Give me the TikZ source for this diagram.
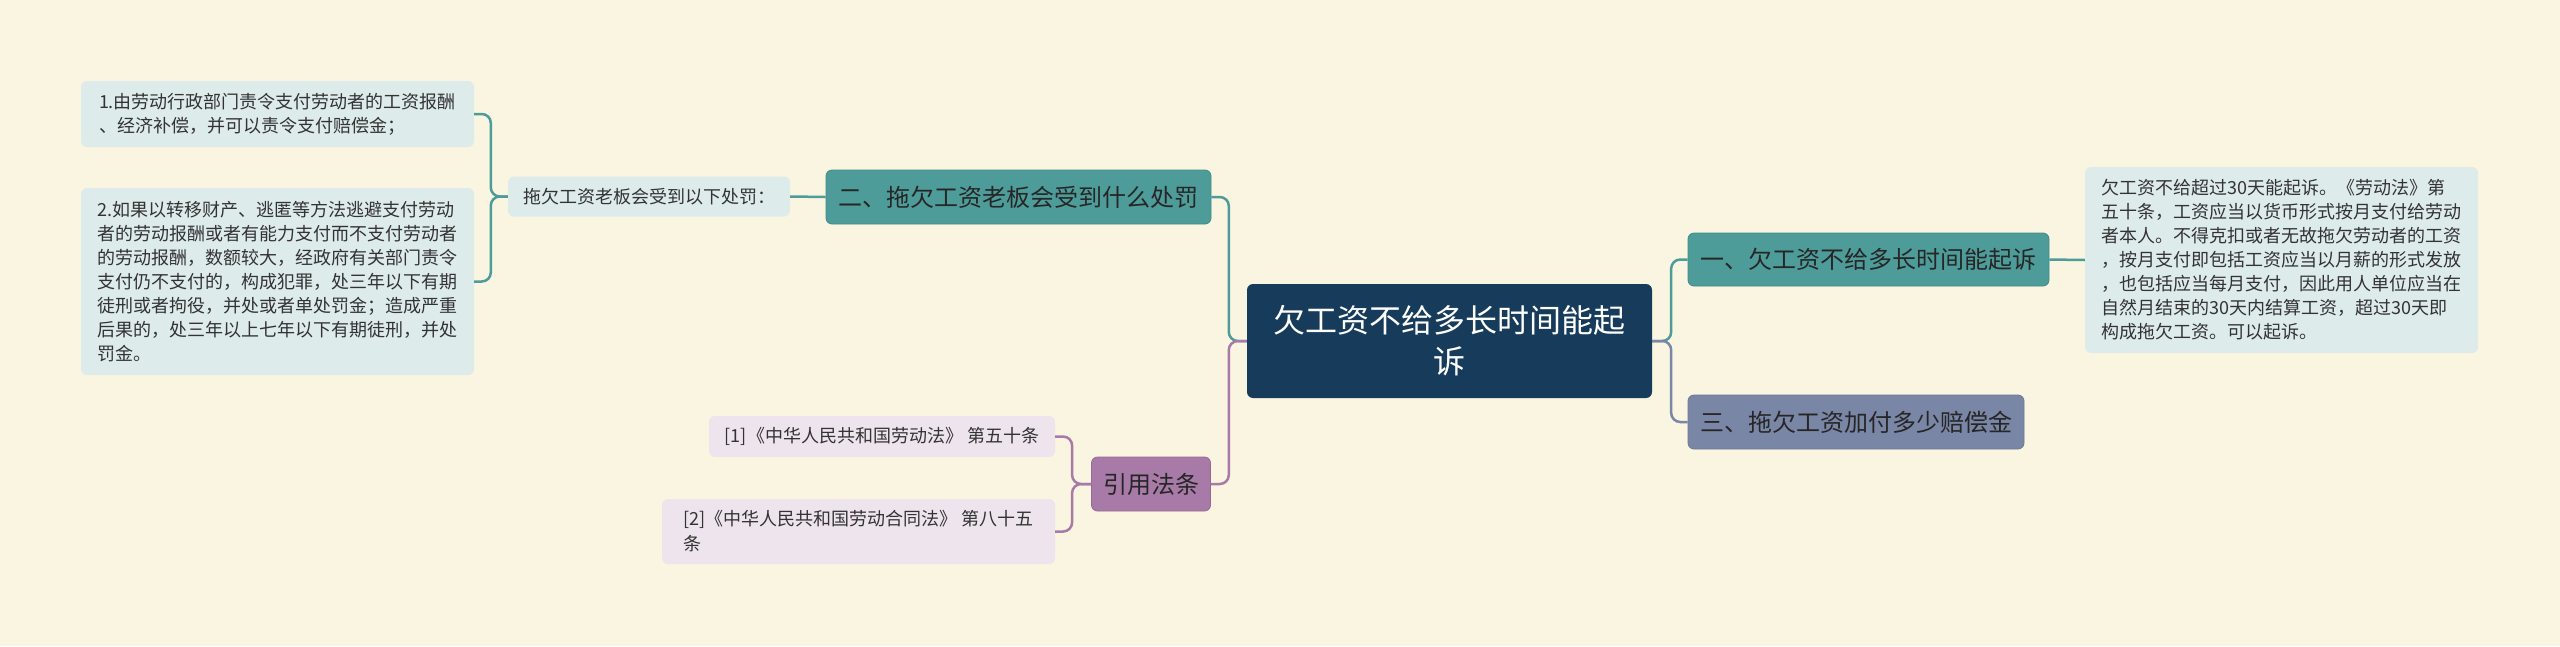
\documentclass[tikz,border=0pt]{standalone}
\usepackage{fontspec}
\setmainfont{Noto Sans CJK SC}
\definecolor{bgc}{RGB}{250,245,224}
\definecolor{tealc}{RGB}{78,156,154}
\definecolor{tealdk}{RGB}{66,138,136}
\definecolor{rootc}{RGB}{23,59,90}
\definecolor{slatec}{RGB}{122,134,166}
\definecolor{slatedk}{RGB}{108,120,152}
\definecolor{purpc}{RGB}{167,122,167}
\definecolor{purpdk}{RGB}{150,106,150}
\definecolor{leafc}{RGB}{221,235,234}
\definecolor{lavc}{RGB}{237,228,237}
\definecolor{txtc}{RGB}{51,51,51}
\begin{document}
\begin{tikzpicture}[x=1pt,y=-1pt,
  box/.style={rounded corners=6pt, inner sep=0pt, text=txtc},
  rootbox/.style={box, fill=rootc, text=white, align=center, font=\fontsize{32}{41}\selectfont},
  mainbox/.style={box, line width=0.8pt, align=center, text=black!85, font=\fontsize{24}{30}\selectfont},
  leafbox/.style={box, fill=leafc, align=left, font=\fontsize{18}{24}\selectfont},
  refbox/.style={box, fill=lavc, align=left, font=\fontsize{18}{25}\selectfont},
  link/.style={line width=2.5pt, rounded corners=9pt},
]
\useasboundingbox[fill=bgc] (0,0) rectangle (2560,646);

% root
\node[rootbox, minimum width=405pt, minimum height=114pt] (root) at (1449.5,341) {欠工资不给多长时间能起\\诉};

% right side
\node[mainbox, fill=tealc, draw=tealdk, minimum width=361pt, minimum height=53pt] (n1) at (1868.5,259.5) {一、欠工资不给多长时间能起诉};
\node[mainbox, fill=slatec, draw=slatedk, minimum width=336pt, minimum height=54pt] (n3) at (1856,422) {三、拖欠工资加付多少赔偿金};
\node[leafbox, minimum width=393pt, minimum height=186pt] (rl) at (2281.5,260) {欠工资不给超过30天能起诉。《劳动法》第\\五十条，工资应当以货币形式按月支付给劳动\\者本人。不得克扣或者无故拖欠劳动者的工资\\，按月支付即包括工资应当以月薪的形式发放\\，也包括应当每月支付，因此用人单位应当在\\自然月结束的30天内结算工资，超过30天即\\构成拖欠工资。可以起诉。};

% left side
\node[mainbox, fill=tealc, draw=tealdk, minimum width=385pt, minimum height=54pt] (n2) at (1018.5,197) {二、拖欠工资老板会受到什么处罚};
\node[leafbox, minimum width=282pt, minimum height=40pt] (fa) at (649,196.5) {拖欠工资老板会受到以下处罚：};
\node[leafbox, minimum width=393pt, minimum height=66pt] (l1) at (277.5,114) {1.由劳动行政部门责令支付劳动者的工资报酬\\、经济补偿，并可以责令支付赔偿金；};
\node[leafbox, minimum width=393pt, minimum height=187pt] (l2) at (277.5,281.5) {2.如果以转移财产、逃匿等方法逃避支付劳动\\者的劳动报酬或者有能力支付而不支付劳动者\\的劳动报酬，数额较大，经政府有关部门责令\\支付仍不支付的，构成犯罪，处三年以下有期\\徒刑或者拘役，并处或者单处罚金；造成严重\\后果的，处三年以上七年以下有期徒刑，并处\\罚金。};

\node[mainbox, fill=purpc, draw=purpdk, minimum width=119pt, minimum height=54pt] (ref) at (1151,484) {引用法条};
\node[refbox, minimum width=346pt, minimum height=41pt] (r1) at (882,436.5) {[1]《中华人民共和国劳动法》 第五十条};
\node[refbox, minimum width=393pt, minimum height=65pt] (r2) at (858.5,531.5) {[2]《中华人民共和国劳动合同法》 第八十五\\条};

% connectors
\draw[link, tealc] (root.east) -- ([xshift=19pt]root.east) |- (n1.west);
\draw[link, slatec] (root.east) -- ([xshift=19pt]root.east) |- (n3.west);
\draw[link, tealc] (n1.east) -- (rl.west);

\draw[link, tealc] (root.west) -- ([xshift=-18pt]root.west) |- (n2.east);
\draw[link, purpc] (root.west) -- ([xshift=-18pt]root.west) |- (ref.east);
\draw[link, tealc] (n2.west) -- (fa.east);
\draw[link, tealc] (fa.west) -- ([xshift=-17pt]fa.west) |- (l1.east);
\draw[link, tealc] (fa.west) -- ([xshift=-17pt]fa.west) |- (l2.east);
\draw[link, purpc] (ref.west) -- ([xshift=-19pt]ref.west) |- (r1.east);
\draw[link, purpc] (ref.west) -- ([xshift=-19pt]ref.west) |- (r2.east);
\end{tikzpicture}
\end{document}
